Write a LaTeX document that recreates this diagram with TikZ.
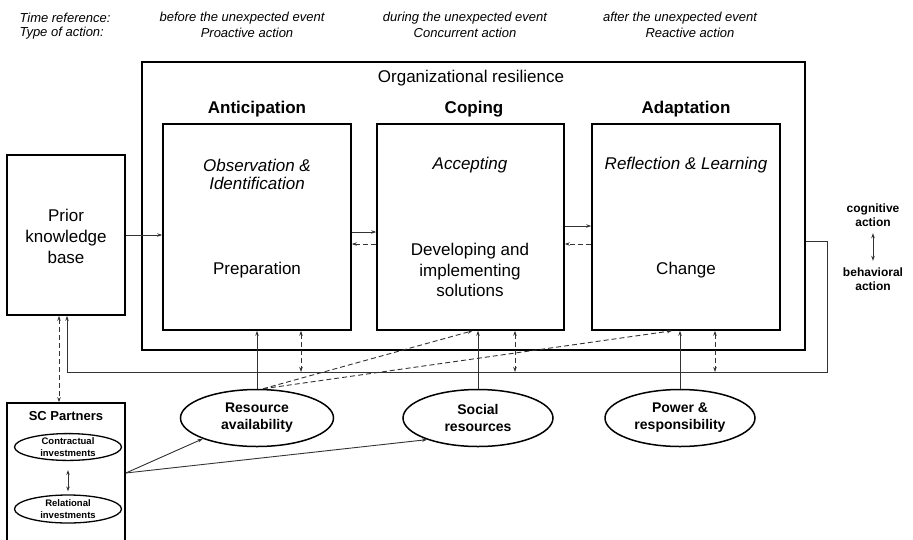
\documentclass[tikz,border=0pt]{standalone}
\usepackage{fontspec}
\setmainfont{Liberation Sans}
\usetikzlibrary{arrows.meta,positioning,calc,shapes.geometric}
\tikzset{
    >={Stealth[length=5pt,width=3.5pt]},
    stagebox/.style={draw,line width=1.6pt,inner sep=0pt},
    oval/.style={ellipse,draw,line width=1.5pt,inner sep=0pt,align=center,
        font=\fontsize{14}{17}\selectfont\bfseries},
    smalloval/.style={oval,line width=1.3pt,font=\fontsize{9.5}{12}\selectfont\bfseries},
    link/.style={draw=black!80,line width=0.9pt},
    dashlink/.style={link,dash pattern=on 5pt off 3pt},
    toptext/.style={font=\fontsize{13}{15}\selectfont\itshape},
    bigtext/.style={align=center,font=\fontsize{17}{20.5}\selectfont},
    headtext/.style={font=\fontsize{17}{20}\selectfont\bfseries}
}

\begin{document}
\begin{tikzpicture}[x=1pt,y=-1pt]
    \clip (0,0) rectangle (913,539);
    % time line on top
    \node[toptext,anchor=west] (tref) at (16,18) {Time reference:};
    \node[toptext,anchor=west] (tact) at (16,33) {Type of action:};
    \node[toptext] (before) at (242,18) {before the unexpected event};
    \node[toptext] (proact) at (247,33) {Proactive action};
    \node[toptext] (during) at (465,18) {during the unexpected event};
    \node[toptext] (concur) at (465,33) {Concurrent action};
    \node[toptext] (after) at (680,18) {after the unexpected event};
    \node[toptext] (react) at (690,33) {Reactive action};

    % boxes
    \node[stagebox,minimum width=663pt,minimum height=288pt] (outer) at (473.5,206) {};
    \node[bigtext] (orgres) at (471,78) {Organizational resilience};
    \node[stagebox,minimum width=188pt,minimum height=206pt] (antic) at (257,227) {};
    \node[stagebox,minimum width=187pt,minimum height=206pt] (coping) at (470.5,227) {};
    \node[stagebox,minimum width=188pt,minimum height=206pt] (adapt) at (686,227) {};
    \node[headtext] (anticH) at (257,109) {Anticipation};
    \node[headtext] (copingH) at (474,109) {Coping};
    \node[headtext] (adaptH) at (686,109) {Adaptation};
    \node[bigtext,font=\fontsize{17}{18}\selectfont\itshape] (observ) at (257,174) {Observation \&\\Identification};
    \node[bigtext,font=\fontsize{17}{18}\selectfont\itshape] (accept) at (470,165) {Accepting};
    \node[bigtext,font=\fontsize{17}{18}\selectfont\itshape] (reflect) at (686,165) {Reflection \& Learning};
    \node[bigtext] (prep) at (257,270) {Preparation};
    \node[bigtext] (develop) at (470,270) {Developing and\\implementing\\solutions};
    \node[bigtext] (change) at (686,270) {Change};

    \node[stagebox,minimum width=118pt,minimum height=160pt] (prior) at (66,235) {};
    \node[bigtext,font=\fontsize{17}{21}\selectfont] (priorT) at (66,236) {Prior\\knowledge\\base};

    \node[stagebox,minimum width=118pt,minimum height=157pt] (scp) at (66,481.5) {};
    \node[font=\fontsize{13}{15}\selectfont\bfseries] (scpT) at (66,416) {SC Partners};
    \node[smalloval,minimum width=107pt,minimum height=26pt] (contr) at (68,447) {Contractual\\investments};
    \node[smalloval,minimum width=107pt,minimum height=28pt] (relat) at (68,509) {Relational\\investments};

    \node[oval,minimum width=153pt,minimum height=57pt] (resav) at (257,418) {Resource\\availability};
    \node[oval,minimum width=150pt,minimum height=57pt] (social) at (478,418) {Social\\resources};
    \node[oval,minimum width=150pt,minimum height=57pt] (power) at (680,418) {Power \&\\responsibility};

    \node[align=center,font=\fontsize{12}{14.5}\selectfont\bfseries] (cogn) at (873,215) {cognitive\\action};
    \node[align=center,font=\fontsize{12}{14.5}\selectfont\bfseries] (behav) at (873,279) {behavioral\\action};

    % feedback loop
    \coordinate (loopR) at (827,372);
    \coordinate (loopL) at (67,372);
    \coordinate (fbA) at (301,372);
    \coordinate (fbC) at (515,372);
    \coordinate (fbD) at (715,372);

    % connectors
    \draw[link,->] (prior.east) -- (prior.east -| antic.west);
    \draw[link,->] ($(antic.east)+(0,5)$) -- ($(coping.west)+(0,5)$);
    \draw[dashlink,->] ($(coping.west)+(0,17)$) -- ($(antic.east)+(0,17)$);
    \draw[link,->] ($(coping.east)+(0,-1)$) -- ($(adapt.west)+(0,-1)$);
    \draw[dashlink,->] ($(adapt.west)+(0,17)$) -- ($(coping.east)+(0,17)$);
    \draw[link,->] ($(outer.east)+(0,35)$) -| (loopR) -- (loopL) -- (loopL |- prior.south);
    \draw[dashlink,<->] (fbA |- antic.south) -- (fbA);
    \draw[dashlink,<->] (fbC |- coping.south) -- (fbC);
    \draw[dashlink,<->] (fbD |- adapt.south) -- (fbD);
    \draw[link,->] (resav.north) -- (resav.north |- antic.south);
    \draw[link,->] (social.north) -- (social.north |- coping.south);
    \draw[link,->] (power.north) -- (power.north |- adapt.south);
    \draw[dashlink,->] ($(resav.north)+(6,0)$) -- ($(coping.south)+(2,0)$);
    \draw[dashlink,->] ($(resav.north)+(6,0)$) -- ($(adapt.south)+(-14,0)$);
    \draw[dashlink,<->] ($(prior.south)+(-7,0)$) -- ($(scp.north)+(-7,0)$);
    \draw[link,->] ($(scp.east)+(0,-8.5)$) -- (resav.201);
    \draw[link,->] ($(scp.east)+(0,-8.5)$) -- (social.203);
    \draw[link,<->,shorten >=3pt,shorten <=9pt] (contr.south) -- (relat.north);
    \draw[link,<->,shorten >=3pt,shorten <=3pt] (cogn) -- (behav);
\end{tikzpicture}
\end{document}
